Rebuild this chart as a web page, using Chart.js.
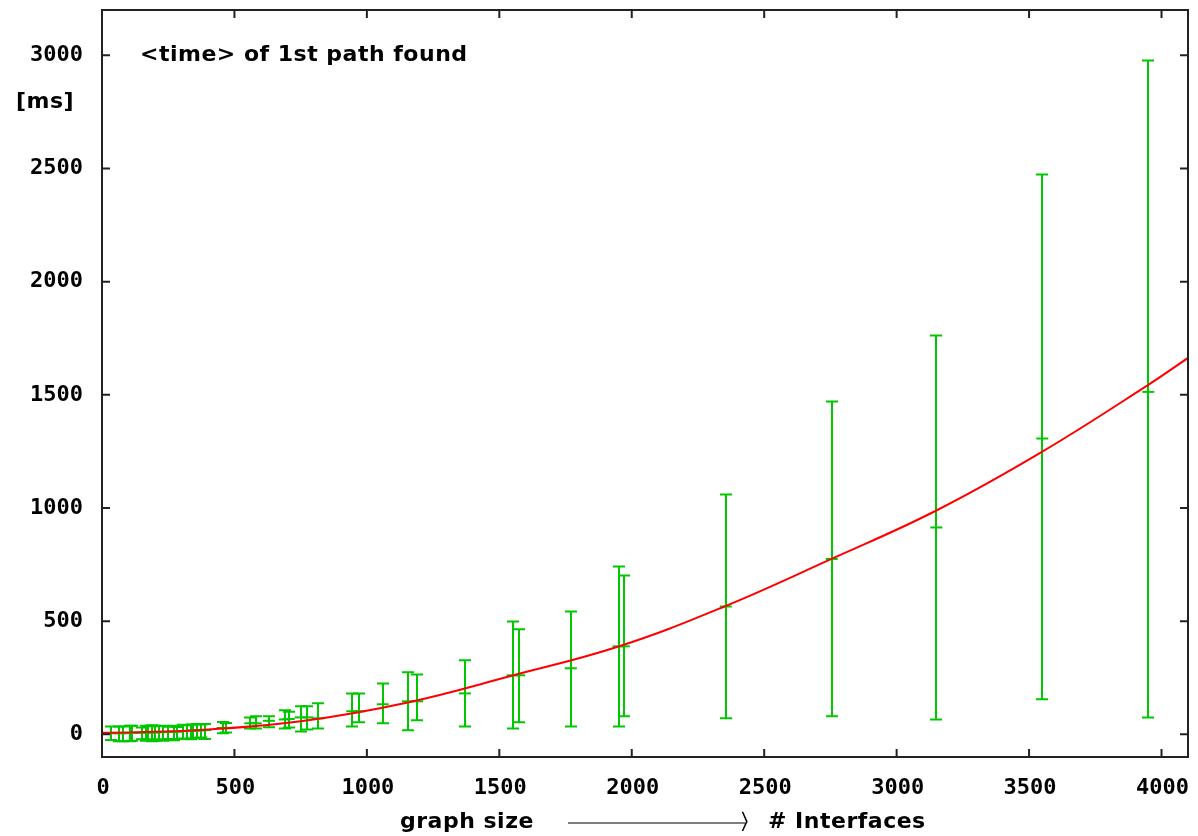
<!DOCTYPE html>
<html>
<head>
<meta charset="utf-8">
<script src="https://cdn.jsdelivr.net/npm/chart.js@4/dist/chart.umd.min.js"></script>
<style>
  body { margin: 0; background: #fff; }
  #wrap { width: 1198px; height: 836px; }
</style>
</head>
<body>
<div id="wrap"><canvas id="ctx"></canvas></div>
<script>
const xTicks = [0, 500, 1000, 1500, 2000, 2500, 3000, 3500, 4000];
const yTicks = [0, 500, 1000, 1500, 2000, 2500, 3000];

// measured runs: graph size, mean time, lower / upper end of error bar
const sizes = [35, 65, 80, 105, 115, 150, 165, 175, 190, 200, 215, 230, 250, 270, 285, 305, 320, 335, 345, 360, 375, 390,
  455, 470, 560, 580, 630, 690, 705, 750, 775, 815, 945, 970, 1060, 1155, 1190, 1370, 1550, 1575, 1770, 1950, 1970,
  2355, 2755, 3150, 3550, 3950];
const means = [5, 5, 5, 6, 6, 7, 8, 8, 9, 9, 10, 10, 11, 12, 12, 14, 15, 15, 16, 17, 18, 19,
  28, 28, 49, 49, 60, 66, 68, 75, 75, 71, 102, 102, 133, 146, 146, 181, 261, 261, 292, 389, 389,
  565, 775, 914, 1307, 1513];
const lows = [-25, -30, -30, -30, -28, -22, -28, -22, -30, -28, -22, -28, -20, -26, -20, -18, -20, -22, -18, -16, -14, -20,
  5, 8, 26, 26, 31, 26, 30, 13, 22, 26, 35, 53, 49, 18, 62, 35, 26, 53, 35, 35, 80,
  71, 80, 66, 155, 75];
const highs = [35, 35, 35, 38, 38, 30, 38, 36, 40, 38, 36, 38, 34, 38, 32, 42, 40, 42, 44, 46, 44, 46,
  55, 50, 75, 80, 80, 106, 100, 124, 124, 137, 181, 181, 225, 274, 265, 327, 499, 464, 543, 742, 702,
  1060, 1471, 1762, 2473, 2977];

// fitted curve
const fitX = [0, 350, 750, 1150, 1550, 1950, 2350, 2750, 3150, 3550, 3950, 4100];
const fitY = [7, 18, 58, 140, 260, 388, 565, 773, 989, 1249, 1544, 1663];

const green = 'rgb(0,200,0)';

const errorBars = {
  id: 'errorBars',
  beforeDatasetsDraw(chart) {
    const {ctx, scales: {x, y}, chartArea: a} = chart;
    ctx.save();
    ctx.beginPath();
    ctx.rect(a.left, a.top, a.right - a.left, a.bottom - a.top);
    ctx.clip();
    ctx.strokeStyle = green;
    ctx.lineWidth = 2;
    for (let i = 0; i < sizes.length; i++) {
      const px = Math.round(x.getPixelForValue(sizes[i]));
      const lo = y.getPixelForValue(lows[i]);
      const hi = y.getPixelForValue(highs[i]);
      ctx.beginPath();
      ctx.moveTo(px, lo); ctx.lineTo(px, hi);
      ctx.moveTo(px - 6, lo); ctx.lineTo(px + 6, lo);
      ctx.moveTo(px - 6, hi); ctx.lineTo(px + 6, hi);
      ctx.stroke();
    }
    ctx.restore();
  }
};

const frame = {
  id: 'frame',
  afterDraw(chart) {
    const {ctx, scales: {x, y}, chartArea: a} = chart;
    ctx.save();
    ctx.strokeStyle = '#222';
    ctx.lineWidth = 2;
    ctx.strokeRect(a.left, a.top, a.right - a.left, a.bottom - a.top);
    ctx.beginPath();
    xTicks.forEach(v => {
      const px = x.getPixelForValue(v);
      ctx.moveTo(px, a.bottom); ctx.lineTo(px, a.bottom - 8);
      ctx.moveTo(px, a.top); ctx.lineTo(px, a.top + 8);
    });
    yTicks.forEach(v => {
      const py = y.getPixelForValue(v);
      ctx.moveTo(a.left, py); ctx.lineTo(a.left + 8, py);
      ctx.moveTo(a.right, py); ctx.lineTo(a.right - 8, py);
    });
    ctx.stroke();

    ctx.fillStyle = '#000';
    ctx.textBaseline = 'middle';
    ctx.textAlign = 'left';
    ctx.letterSpacing = '0.5px';
    ctx.font = 'bold 22px "DejaVu Sans"';
    ctx.fillText('<time> of 1st path found', 140, 55);
    ctx.fillText('[ms]', 16, 102);

    ctx.fillText('graph size', 400, 822);
    ctx.lineWidth = 1;
    ctx.strokeStyle = '#000';
    ctx.beginPath();
    ctx.moveTo(568, 823); ctx.lineTo(745, 823);
    ctx.stroke();
    ctx.font = '22px "DejaVu Sans"';
    ctx.fillText('\u232A', 741, 822);
    ctx.font = 'bold 22px "DejaVu Sans"';
    ctx.fillText('# Interfaces', 768, 822);
    ctx.restore();
  }
};

const tickFont = {family: '"DejaVu Sans Mono"', size: 22, weight: 'bold'};

new Chart(document.getElementById('ctx'), {
  type: 'scatter',
  data: {
    datasets: [
      {
        type: 'line',
        label: 'fit',
        data: fitX.map((v, i) => ({x: v, y: fitY[i]})),
        borderColor: 'rgb(255,0,0)',
        borderWidth: 2,
        pointRadius: 0,
        tension: 0.4,
        order: 0
      },
      {
        label: 'time',
        data: sizes.map((v, i) => ({x: v, y: means[i]})),
        pointStyle: 'line',
        pointRadius: 6,
        borderColor: green,
        backgroundColor: green,
        borderWidth: 2,
        order: 1
      }
    ]
  },
  options: {
    responsive: true,
    maintainAspectRatio: false,
    animation: false,
    devicePixelRatio: 1,
    layout: {padding: {top: 10, right: 10, left: 0, bottom: 0}},
    plugins: {legend: {display: false}, tooltip: {enabled: false}},
    scales: {
      x: {
        type: 'linear',
        min: 0, max: 4100,
        afterBuildTicks: s => { s.ticks = xTicks.map(v => ({value: v})); },
        afterFit: s => { s.height = 79; s.paddingLeft = 0; s.paddingRight = 0; },
        grid: {display: false, drawTicks: false},
        border: {display: false},
        ticks: {font: tickFont, color: '#000', padding: 18, maxRotation: 0, autoSkip: false, labelOffset: 1,
          callback: v => String(v)}
      },
      y: {
        min: -100, max: 3200,
        afterBuildTicks: s => { s.ticks = yTicks.map(v => ({value: v})); },
        afterFit: s => { s.width = 102; s.paddingTop = 0; s.paddingBottom = 0; },
        grid: {display: false, drawTicks: false},
        border: {display: false},
        ticks: {font: tickFont, color: '#000', padding: 19, callback: v => String(v)}
      }
    }
  },
  plugins: [errorBars, frame]
});
</script>
</body>
</html>
